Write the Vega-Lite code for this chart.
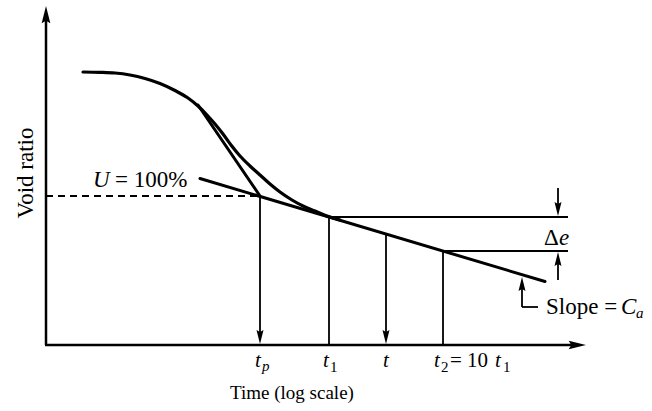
{
  "$schema": "https://vega.github.io/schema/vega-lite/v6.json",
  "width": 652,
  "height": 411,
  "padding": 0,
  "autosize": {"type": "fit", "contains": "padding"},
  "background": "white",
  "config": {"view": {"stroke": null}},
  "datasets": {
    "axes": [
      {"x": 46, "y": 345, "x2": 46, "y2": 16},
      {"x": 45, "y": 345, "x2": 574, "y2": 345}
    ],
    "thick": [
      {"x": 200, "y": 178.5, "x2": 545, "y2": 281.5},
      {"x": 198, "y": 105, "x2": 260, "y2": 196}
    ],
    "thin": [
      {"x": 260, "y": 196, "x2": 260, "y2": 334},
      {"x": 329, "y": 217, "x2": 329, "y2": 345},
      {"x": 386, "y": 234, "x2": 386, "y2": 334},
      {"x": 443, "y": 251, "x2": 443, "y2": 345},
      {"x": 329, "y": 217, "x2": 568, "y2": 217},
      {"x": 443, "y": 251, "x2": 568, "y2": 251},
      {"x": 558, "y": 188, "x2": 558, "y2": 206},
      {"x": 558, "y": 280, "x2": 558, "y2": 262},
      {"x": 522, "y": 286, "x2": 522, "y2": 307},
      {"x": 522, "y": 307, "x2": 538, "y2": 307}
    ],
    "dashed": [
      {"x": 46, "y": 196, "x2": 260, "y2": 196}
    ],
    "curve": [
      {"x": 83, "y": 72}, {"x": 100, "y": 72.3}, {"x": 115, "y": 73},
      {"x": 130, "y": 75}, {"x": 145, "y": 78.5}, {"x": 160, "y": 83.5},
      {"x": 175, "y": 90.5}, {"x": 188, "y": 98}, {"x": 198, "y": 106},
      {"x": 207, "y": 115}, {"x": 215, "y": 124}, {"x": 223, "y": 134},
      {"x": 231, "y": 145}, {"x": 240, "y": 156}, {"x": 250, "y": 166},
      {"x": 260, "y": 175}, {"x": 270, "y": 184}, {"x": 280, "y": 192},
      {"x": 292, "y": 200}, {"x": 303, "y": 206}, {"x": 315, "y": 211},
      {"x": 327, "y": 216}, {"x": 340, "y": 220}
    ],
    "bigUpArrows": [
      {"x": 46, "y": 6}
    ],
    "upArrows": [
      {"x": 558, "y": 252},
      {"x": 522, "y": 277}
    ],
    "downArrows": [
      {"x": 260, "y": 344},
      {"x": 386, "y": 344},
      {"x": 558, "y": 216}
    ],
    "rightArrows": [
      {"x": 586, "y": 345}
    ],
    "italic20": [
      {"x": 255, "y": 367, "label": "t"},
      {"x": 323, "y": 367, "label": "t"},
      {"x": 383, "y": 367, "label": "t"},
      {"x": 434, "y": 367, "label": "t"},
      {"x": 495, "y": 367, "label": "t"}
    ],
    "roman20": [
      {"x": 450, "y": 367, "label": "= 10"}
    ],
    "subItalic": [
      {"x": 262, "y": 371, "label": "p"},
      {"x": 636, "y": 318, "label": "a"}
    ],
    "subRoman": [
      {"x": 330, "y": 372, "label": "1"},
      {"x": 441, "y": 372, "label": "2"},
      {"x": 503, "y": 372, "label": "1"}
    ],
    "italic22": [
      {"x": 93, "y": 187, "label": "U"},
      {"x": 559, "y": 245, "label": "e"},
      {"x": 621, "y": 314, "label": "C"}
    ],
    "roman22": [
      {"x": 115, "y": 187, "label": "= 100%"},
      {"x": 544, "y": 245, "label": "Δ"},
      {"x": 546, "y": 314, "label": "Slope ="}
    ],
    "title": [
      {"x": 292, "y": 399, "label": "Time (log scale)"}
    ],
    "ytitle": [
      {"x": 33, "y": 173, "label": "Void ratio"}
    ]
  },
  "encoding": {
    "x": {"field": "x", "type": "quantitative", "scale": {"domain": [0, 652], "nice": false, "zero": false}, "axis": null},
    "y": {"field": "y", "type": "quantitative", "scale": {"domain": [0, 411], "nice": false, "zero": false, "reverse": true}, "axis": null}
  },
  "layer": [
    {
      "data": {"name": "dashed"},
      "mark": {"type": "rule", "color": "#000", "strokeWidth": 1.8, "strokeDash": [7, 5]},
      "encoding": {"x2": {"field": "x2"}, "y2": {"field": "y2"}}
    },
    {
      "data": {"name": "thin"},
      "mark": {"type": "rule", "color": "#000", "strokeWidth": 1.8},
      "encoding": {"x2": {"field": "x2"}, "y2": {"field": "y2"}}
    },
    {
      "data": {"name": "axes"},
      "mark": {"type": "rule", "color": "#000", "strokeWidth": 2.5},
      "encoding": {"x2": {"field": "x2"}, "y2": {"field": "y2"}}
    },
    {
      "data": {"name": "thick"},
      "mark": {"type": "rule", "color": "#000", "strokeWidth": 3, "strokeCap": "round"},
      "encoding": {"x2": {"field": "x2"}, "y2": {"field": "y2"}}
    },
    {
      "data": {"name": "curve"},
      "mark": {"type": "line", "color": "#000", "strokeWidth": 3.2, "interpolate": "monotone", "strokeCap": "round"},
      "encoding": {}
    },
    {
      "data": {"name": "bigUpArrows"},
      "mark": {"type": "point", "shape": "M0,0L0.5,2L0,1.7L-0.5,2Z", "filled": true, "color": "#000", "opacity": 1, "size": 300, "strokeWidth": 0},
      "encoding": {}
    },
    {
      "data": {"name": "upArrows"},
      "mark": {"type": "point", "shape": "M0,0L0.5,2L0,1.7L-0.5,2Z", "filled": true, "color": "#000", "opacity": 1, "size": 196, "strokeWidth": 0},
      "encoding": {}
    },
    {
      "data": {"name": "downArrows"},
      "mark": {"type": "point", "shape": "M0,0L0.5,-2L0,-1.7L-0.5,-2Z", "filled": true, "color": "#000", "opacity": 1, "size": 196, "strokeWidth": 0},
      "encoding": {}
    },
    {
      "data": {"name": "rightArrows"},
      "mark": {"type": "point", "shape": "M0,0L-2,0.5L-1.7,0L-2,-0.5Z", "filled": true, "color": "#000", "opacity": 1, "size": 300, "strokeWidth": 0},
      "encoding": {}
    },
    {
      "data": {"name": "italic20"},
      "mark": {"type": "text", "font": "Liberation Serif", "fontStyle": "italic", "fontSize": 21, "align": "left", "baseline": "alphabetic", "color": "#000"},
      "encoding": {"text": {"field": "label"}}
    },
    {
      "data": {"name": "roman20"},
      "mark": {"type": "text", "font": "Liberation Serif", "fontSize": 21, "align": "left", "baseline": "alphabetic", "color": "#000"},
      "encoding": {"text": {"field": "label"}}
    },
    {
      "data": {"name": "subItalic"},
      "mark": {"type": "text", "font": "Liberation Serif", "fontStyle": "italic", "fontSize": 15, "align": "left", "baseline": "alphabetic", "color": "#000"},
      "encoding": {"text": {"field": "label"}}
    },
    {
      "data": {"name": "subRoman"},
      "mark": {"type": "text", "font": "Liberation Serif", "fontSize": 15, "align": "left", "baseline": "alphabetic", "color": "#000"},
      "encoding": {"text": {"field": "label"}}
    },
    {
      "data": {"name": "italic22"},
      "mark": {"type": "text", "font": "Liberation Serif", "fontStyle": "italic", "fontSize": 23, "align": "left", "baseline": "alphabetic", "color": "#000"},
      "encoding": {"text": {"field": "label"}}
    },
    {
      "data": {"name": "roman22"},
      "mark": {"type": "text", "font": "Liberation Serif", "fontSize": 23, "align": "left", "baseline": "alphabetic", "color": "#000"},
      "encoding": {"text": {"field": "label"}}
    },
    {
      "data": {"name": "title"},
      "mark": {"type": "text", "font": "Liberation Serif", "fontSize": 19, "align": "center", "baseline": "alphabetic", "color": "#000"},
      "encoding": {"text": {"field": "label"}}
    },
    {
      "data": {"name": "ytitle"},
      "mark": {"type": "text", "font": "Liberation Serif", "fontSize": 23, "angle": 270, "align": "center", "baseline": "alphabetic", "color": "#000"},
      "encoding": {"text": {"field": "label"}}
    }
  ]
}
